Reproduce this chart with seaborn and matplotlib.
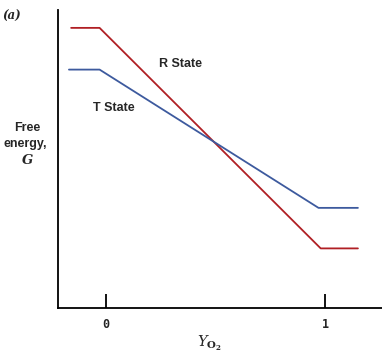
import matplotlib
matplotlib.use("Agg")
import matplotlib.pyplot as plt
import seaborn as sns
import pandas as pd

# Data
r_x = [-0.16, -0.03, 0.98, 1.15]
r_g = [9.4, 9.4, 2.0, 2.0]
t_x = [-0.17, -0.03, 0.97, 1.15]
t_g = [8.0, 8.0, 3.36, 3.36]
x_ticks = [0, 1]
x_tick_labels = ["0", "1"]

df = pd.concat([
    pd.DataFrame({"Y": r_x, "G": r_g, "state": "R State"}),
    pd.DataFrame({"Y": t_x, "G": t_g, "state": "T State"}),
])

sns.set_style("white")
fig = plt.figure(figsize=(3.82, 3.53), dpi=100)
ax = fig.add_axes([58/382, 45/353, 1 - 58/382, (308-10)/353])

sns.lineplot(data=df, x="Y", y="G", hue="state", sort=False,
             palette={"R State": "#b01f24", "T State": "#3d5a9e"},
             linewidth=1.3, legend=False, ax=ax, estimator=None)

ax.set_xlim(-0.22, 1.26)
ax.set_ylim(0, 10)
for s in ["top", "right"]:
    ax.spines[s].set_visible(False)
for s in ["left", "bottom"]:
    ax.spines[s].set_color("black")
    ax.spines[s].set_linewidth(1.3)
ax.set_yticks([])
ax.set_xticks(x_ticks)
ax.set_xticklabels(x_tick_labels, fontfamily="DejaVu Sans Mono", fontweight="bold", fontsize=8.5)
ax.tick_params(axis="x", bottom=True, direction="in", length=10, width=1.3, pad=7, color="black")
ax.set_xlabel("")
ax.set_ylabel("")

ax.text(0.338, 8.2, "R State", fontfamily="Liberation Sans", fontweight="bold", fontsize=9, ha="center", va="center")
ax.text(0.037, 6.7, "T State", fontfamily="Liberation Sans", fontweight="bold", fontsize=9, ha="center", va="center")

fig.text(27/382, 1 - 128/353, "Free", fontfamily="Liberation Sans", fontweight="bold",
         fontsize=9, ha="center", va="center")
fig.text(47/382, 1 - 144/353, "energy,", fontfamily="Liberation Sans", fontweight="bold",
         fontsize=9, ha="right", va="center")
fig.text(28/382, 1 - 161/353, "G", fontfamily="DejaVu Serif", fontweight="bold", fontstyle="italic",
         fontsize=9.5, ha="center", va="center")
fig.text(210/382, 1 - 343/353, r"$\mathbf{\mathit{Y}}_{\mathbf{O_2}}$", fontsize=10.5, ha="center", va="center",
         math_fontfamily="dejavuserif")
fig.text(21/382, 1 - 16/353, "(a)", fontfamily="DejaVu Serif", fontweight="bold", fontstyle="italic",
         fontsize=8.5, ha="right", va="center")

fig.savefig("out.png", dpi=100)
